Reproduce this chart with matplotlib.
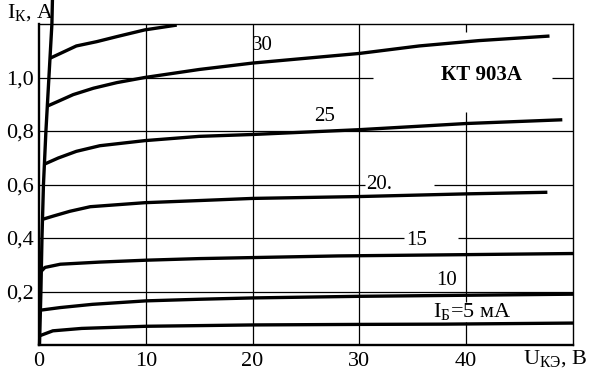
import matplotlib.pyplot as plt

plt.rcParams['font.family'] = ['Liberation Serif', 'DejaVu Serif']
plt.rcParams['mathtext.fontset'] = 'custom'
plt.rcParams['mathtext.rm'] = 'Liberation Serif'
plt.rcParams['mathtext.it'] = 'Liberation Serif:italic'

# выходные характеристики КТ903А: I_К (А) от U_КЭ (В)
steep_u = [0.05, 0.18, 0.28, 0.42, 0.65, 0.93, 1.21, 1.26]
steep_i = [0.0, 0.2, 0.4, 0.6, 0.8, 1.0, 1.2, 1.29]

ib_labels = ['I$_{\\mathrm{Б}}$=5 мА', '10', '15', '20.', '25', '30', None]

u5 = [0.1, 1.3, 4, 10, 20, 30, 38, 50]
i5 = [0.035, 0.053, 0.062, 0.07, 0.075, 0.077, 0.078, 0.082]

u10 = [0.1, 2, 5, 10, 15, 20, 30, 40, 50]
i10 = [0.13, 0.14, 0.152, 0.165, 0.171, 0.176, 0.182, 0.186, 0.19]

u15 = [0.1, 0.56, 2, 5.7, 10, 15, 28, 38, 50]
i15 = [0.271, 0.29, 0.302, 0.31, 0.317, 0.323, 0.333, 0.337, 0.342]

u20 = [0.35, 1.34, 2.9, 4.8, 9.9, 15, 20, 30, 35, 40, 47.6]
i20 = [0.47, 0.482, 0.5, 0.517, 0.532, 0.54, 0.548, 0.555, 0.56, 0.565, 0.571]

u25 = [0.56, 1.8, 3.5, 5.7, 9.9, 15, 20, 30, 40, 49]
i25 = [0.677, 0.699, 0.724, 0.745, 0.764, 0.78, 0.787, 0.805, 0.828, 0.842]

u30 = [0.72, 1.8, 3.2, 5.1, 7.3, 9.9, 15, 20, 30, 35.6, 41.2, 47.8]
i30 = [0.892, 0.911, 0.936, 0.96, 0.981, 1.0, 1.03, 1.054, 1.09, 1.118, 1.138, 1.155]

u35 = [1.03, 2, 3.5, 5.4, 7.3, 9.9, 12.9]
i35 = [1.072, 1.09, 1.118, 1.134, 1.153, 1.178, 1.196]

x_ticks = [0, 10, 20, 30, 40]
y_ticks = [0.2, 0.4, 0.6, 0.8, 1.0]
y_tick_labels = ['0,2', '0,4', '0,6', '0,8', '1,0']

fig = plt.figure(figsize=(5.96, 3.8), dpi=100)
ax = fig.add_axes([0.0654, 0.0921, 0.896, 0.8447])
ax.set_xlim(0, 50)
ax.set_ylim(0, 1.2)

# сетка с разрывами под надписями
lw_g = 0.9
ax.hlines(1.0, 0, 31.3, color='k', lw=lw_g)
ax.hlines(1.0, 48, 50, color='k', lw=lw_g)
ax.hlines(0.8, 0, 50, color='k', lw=lw_g)
ax.hlines(0.6, 0, 30.5, color='k', lw=lw_g)
ax.hlines(0.6, 37, 50, color='k', lw=lw_g)
ax.hlines(0.4, 0, 34.2, color='k', lw=lw_g)
ax.hlines(0.4, 39.2, 50, color='k', lw=lw_g)
ax.hlines(0.2, 0, 50, color='k', lw=lw_g)
ax.vlines([10, 20, 30], 0, 1.2, color='k', lw=lw_g)
ax.vlines(40, 0, 0.085, color='k', lw=lw_g)
ax.vlines(40, 0.16, 0.87, color='k', lw=lw_g)
ax.vlines(40, 1.17, 1.2, color='k', lw=lw_g)

lw_c = 2.4
ax.plot(steep_u, steep_i, 'k-', lw=lw_c, clip_on=False, solid_capstyle='butt')
for u, i in [(u5, i5), (u10, i10), (u15, i15), (u20, i20),
             (u25, i25), (u30, i30), (u35, i35)]:
    ax.plot(u, i, 'k-', lw=lw_c, solid_capstyle='butt')

fs = 15
ax.text(40.6, 0.127, ib_labels[0], fontsize=16, ha='center', va='center')
ax.text(38.2, 0.24, ib_labels[1], fontsize=fs, ha='center', va='center')
ax.text(35.4, 0.391, ib_labels[2], fontsize=fs, ha='center', va='center')
ax.text(30.6, 0.6, ib_labels[3], fontsize=fs, ha='left', va='center')
ax.text(26.7, 0.855, ib_labels[4], fontsize=fs, ha='center', va='center')
ax.text(20.9, 1.12, ib_labels[5], fontsize=fs, ha='center', va='center')
ax.text(41.4, 1.01, 'КТ 903А', fontsize=15, fontweight='bold',
        ha='center', va='center')

ax.set_xticks(x_ticks)
ax.set_xticklabels([str(v) for v in x_ticks])
ax.set_yticks(y_ticks)
ax.set_yticklabels(y_tick_labels)
ax.tick_params(length=0, labelsize=16)
ax.tick_params(axis='y', pad=4)
ax.tick_params(axis='x', pad=5)

ax.spines['left'].set_linewidth(1.7)
ax.spines['bottom'].set_linewidth(1.7)
ax.spines['top'].set_linewidth(1.0)
ax.spines['right'].set_linewidth(1.0)

fig.text(7 / 596, 1 - 13 / 380, 'I$_{\\mathrm{К}}$, А', fontsize=16,
         ha='left', va='center')
fig.text(523 / 596, 1 - 359 / 380, 'U$_{\\mathrm{КЭ}}$, В', fontsize=16,
         ha='left', va='center')

fig.savefig('out.png', dpi=100)
